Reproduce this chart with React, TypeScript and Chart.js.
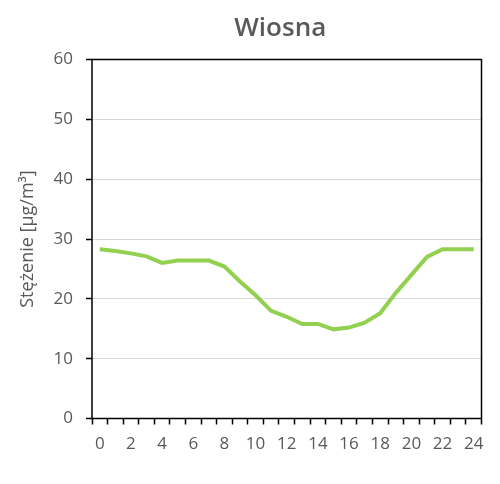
import React, { useEffect, useRef } from "react";
import { Chart, registerables } from "chart.js";

Chart.register(...registerables);

const hours = [0, 1, 2, 3, 4, 5, 6, 7, 8, 9, 10, 11, 12, 13, 14, 15, 16, 17, 18, 19, 20, 21, 22, 23, 24];
const hourLabels = hours.map((h) => String(h));
const concentration = [
  28.3, 28.0, 27.6, 27.1, 26.0, 26.4, 26.4, 26.4, 25.4, 22.9, 20.6, 18.0, 17.0,
  15.8, 15.8, 14.9, 15.2, 16.0, 17.6, 21.0, 24.0, 27.0, 28.3, 28.3, 28.3,
];
const yMin = 0;
const yMax = 60;
const yStep = 10;
const chartTitle = "Wiosna";
const yAxisTitle = "Stężenie [µg/m³]";

const GREY = "#595959";
const FONT = "'Open Sans', 'Liberation Sans', sans-serif";

const framePlugin = {
  id: "frame",
  afterLayout(chart: any) {
    const tb = chart.titleBlock;
    if (tb) {
      tb.left -= 13;
      tb.width += 13;
    }
  },
  beforeDatasetsDraw(chart: any) {
    const { ctx, chartArea } = chart;
    ctx.save();
    ctx.strokeStyle = "#000000";
    ctx.lineWidth = 1.5;
    ctx.strokeRect(chartArea.left, chartArea.top, chartArea.right - chartArea.left, chartArea.bottom - chartArea.top);
    ctx.restore();
  },
};

export default function App() {
  const canvasRef = useRef<HTMLCanvasElement | null>(null);

  useEffect(() => {
    if (!canvasRef.current) return;
    const chart = new Chart(canvasRef.current, {
      type: "line",
      data: {
        labels: hourLabels,
        datasets: [
          {
            label: chartTitle,
            data: concentration,
            borderColor: "#92D050",
            backgroundColor: "#92D050",
            borderWidth: 4,
            pointRadius: 0,
            tension: 0,
            fill: false,
          },
        ],
      },
      options: {
        animation: false,
        responsive: true,
        maintainAspectRatio: false,
        layout: { padding: { left: 0, right: 18.5, top: 0, bottom: 0 } },
        plugins: {
          legend: { display: false },
          tooltip: { enabled: false },
          title: {
            display: true,
            text: chartTitle,
            fullSize: false,
            color: GREY,
            font: { family: FONT, size: 26, weight: 600, lineHeight: 1.2 },
            padding: { top: 12.9, bottom: 15.4 },
          },
        },
        scales: {
          x: {
            type: "category",
            offset: true,
            border: { display: false },
            grid: {
              display: true,
              offset: true,
              drawOnChartArea: false,
              drawTicks: true,
              tickLength: 6,
              tickColor: "#000000",
              tickWidth: 1.5,
            },
            ticks: {
              autoSkip: false,
              maxRotation: 0,
              minRotation: 0,
              padding: 9,
              color: GREY,
              font: { family: FONT, size: 17 },
              callback: (_v: any, idx: number) => (idx % 2 === 0 ? hourLabels[idx] : ""),
            },
            afterFit: (scale: any) => {
              scale.height = 65.5;
            },
          },
          y: {
            min: yMin,
            max: yMax,
            border: { display: false },
            grid: {
              color: "#d9d9d9",
              lineWidth: 1,
              drawTicks: true,
              tickLength: 6,
              tickColor: "#000000",
              tickWidth: 1.5,
            },
            ticks: {
              stepSize: yStep,
              padding: 13,
              color: GREY,
              font: { family: FONT, size: 17 },
            },
            title: {
              display: true,
              text: yAxisTitle,
              color: GREY,
              font: { family: FONT, size: 18 },
              padding: { top: 17.2, bottom: 0 },
            },
            afterFit: (scale: any) => {
              scale.width = 92;
            },
          },
        },
      },
      plugins: [framePlugin],
    });
    return () => chart.destroy();
  }, []);

  return (
    <div style={{ position: "fixed", left: 0, top: 0, width: 500, height: 484, background: "#ffffff" }}>
      <canvas ref={canvasRef} />
    </div>
  );
}
